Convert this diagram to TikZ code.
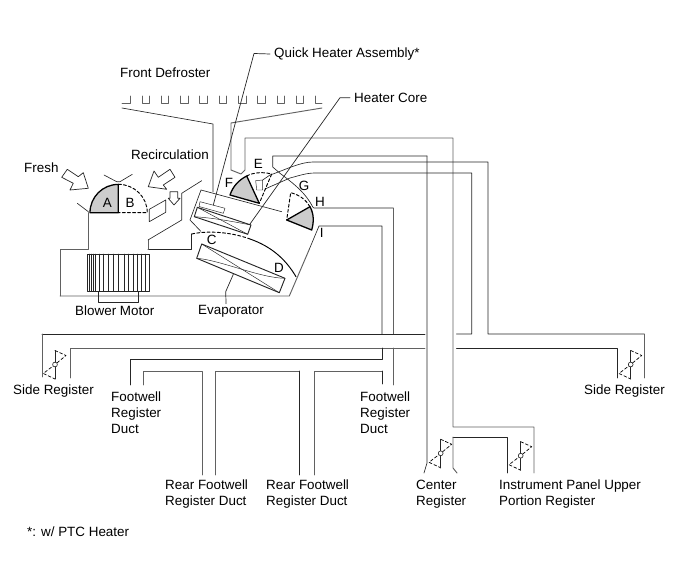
\documentclass[tikz,border=0pt]{standalone}
\usepackage{fontspec}
\setmainfont{Liberation Sans}
\usepackage{tikz}
\usetikzlibrary{calc}
\definecolor{qqqqqq}{rgb}{0.15,0.15,0.15}
\definecolor{ggduct}{rgb}{0.38,0.38,0.38}
\definecolor{ccgray}{rgb}{0.8,0.8,0.8}
\tikzstyle{every node}=[font=\fontsize{11.45}{13.66}\selectfont,inner sep=0pt,anchor=west,align=left,text=black]
\tikzset{
  duct/.style={line width=0.55pt,color=qqqqqq},
  ductpale/.style={line width=0.8pt,color=ggduct},
  thinline/.style={line width=0.4pt,color=qqqqqq},
  flap/.style={line width=1.1pt,color=black},
  flapopen/.style={line width=0.8pt,color=black,dash pattern=on 2.6pt off 1.8pt},
  airarrow/.style={line width=0.6pt,color=qqqqqq,fill=white}
}
% one register: spindle, pivot and the dashed swing
\newcommand{\register}[1]{
  \draw [flapopen,line width=0.6pt] ($#1+(0,-14)$) -- ($#1+(11,-9)$) -- #1 -- ($#1+(-11.7,9)$) -- ($#1+(0,14.5)$);
  \draw [duct,line width=0.8pt] ($#1+(0,-14)$) -- ($#1+(0,14.5)$);
  \draw [duct,fill=white] #1 circle (2.4);
}
\begin{document}
\begin{tikzpicture}[line cap=round,line join=round,x=0.03cm,y=-0.03cm]
\useasboundingbox (0,0) rectangle (691,564);
% defroster outlets
\draw [ductpale] (122,103) -- (130,103) -- (130,96);
\foreach \x in {142,161.3,180.6,199.9,219.2,238.5,257.8,277.1,296.4}
  \draw [ductpale] (\x,96) -- (\x,103) -- ({\x+7.5},103) -- ({\x+7.5},96);
\draw [ductpale] (315,96) -- (315,103) -- (322,103);
% housing and main ducts
\draw [duct] (122,108) -- (213,124) -- (213,192);
\draw [ductpale] (322,108) -- (231,123) -- (231,170) -- (241,174) -- (245,170) -- (245,138) -- (453,138) -- (453,427) -- (534,427) -- (534,473);
\draw [duct] (427,156) -- (272.7,156) -- (272.7,167) -- (280,173.3) .. controls (297,186) and (306,194) .. (313,207.3) -- (314,208) -- (393,208);
\draw [ductpale] (393,208) -- (393,334);
\draw [duct] (427,156) -- (427,463) -- (424,473);
\draw [ductpale] (393,348) -- (393,385);
\draw [duct] (262.7,180) -- (270,175) .. controls (285,170) and (300,162) .. (313,162) -- (488,162) -- (488,334) -- (644,334);
\draw [ductpale] (644,334) -- (644,378);
\draw [duct] (265,189) -- (290,178) .. controls (298,176) and (306,173) .. (315,173) -- (471.7,173) -- (471.7,334) -- (456.5,334);
\draw [duct] (456.5,348) -- (617,348) -- (617,378);
\draw [ductpale] (70,378) -- (70,348) -- (425,348);
\draw [duct] (42,334) -- (425,334);
\draw [ductpale] (42,377) -- (42,334);
\draw [duct] (309,250) -- (319,226) -- (382,226) -- (382,334);
\draw [duct] (382,348) -- (382,359) -- (130,359) -- (130,385);
\draw [ductpale] (143.3,385) -- (143.3,371) -- (202,371) -- (202,475);
\draw [ductpale] (215,475) -- (215,371) -- (299.5,371);
\draw [duct] (299.5,371) -- (299.5,475);
\draw [ductpale] (314,475) -- (314,371) -- (382,371);
\draw [duct] (382,371) -- (382,384);
\draw [duct] (453,437) -- (507,437) -- (507,473);
\draw [ductpale] (453,437) -- (453,468) -- (457,473);
\draw [ductpale] (60,296) -- (60,249.3) -- (88.3,249.3) -- (88.3,212.7);
\draw [ductpale] (60,296) -- (289.3,296) -- (309,250);
\draw [duct] (77.3,203.3) -- (88.3,211.7);
\draw [duct] (148,249.3) -- (191.7,249.3) -- (191.7,234);
\draw [ductpale] (148,249.3) -- (148,240);
\draw [duct] (148,240) -- (181.7,220) -- (181.7,193.3) -- (201.7,180.7);
\draw [duct] (281.7,211.7) -- (201,190) -- (190,220) -- (201,231.5);
% air inlets
\draw [airarrow] (67.3,169.3) -- (78.3,176.7) -- (83.3,172.7) -- (88.3,188.3) -- (70,190) -- (73.3,183.3) -- (61.7,177.3) -- cycle;
\draw [airarrow] (148.3,186.7) -- (154,171) -- (158.3,177.3) -- (170,169.3) -- (175,177.3) -- (163.3,185) -- (166.7,189.3) -- cycle;
\draw [airarrow] (170,191.7) -- (177.7,191.7) -- (177.7,198.3) -- (180,198.3) -- (174,205) -- (168.3,198.3) -- (170,198.3) -- cycle;
\draw [duct] (149.3,209.3) -- (165.7,200) -- (165.7,212.3) -- (149.3,221.7) -- cycle;
% dampers A and B
\draw [duct] (104,175) -- (116.7,181.7) -- (120,181.7) -- (132.3,174.3);
\draw [flapopen] (118.3,184.3) arc (270:360:29 and 28.4) -- (118.3,212.7);
\fill [ccgray] (118.3,212.7) -- (90,212.7) arc (180:270:28.3) -- cycle;
\draw [flap] (118.3,184.3) -- (118.3,212.7) -- (90,212.7) arc (180:270:28.3);
% dampers E, F
\draw [flapopen] (246.7,176) .. controls (254,172) and (264,172) .. (271.7,174) -- (259.3,203.3);
\fill [ccgray] (230,195) .. controls (233,186) and (239,180) .. (246.7,176) -- (259.3,203.3) -- cycle;
\draw [flap] (230,195) .. controls (233,186) and (239,180) .. (246.7,176) -- (259.3,203.3) -- cycle;
\draw [thinline,fill=white] (255.7,180.7) -- (262.7,180) -- (262.7,190) -- (256.7,190) -- cycle;
% dampers G, H
\draw [flapopen] (310,206.7) .. controls (306,200) and (300,195) .. (290.7,192.7) -- (286.7,220);
\fill [ccgray] (286.7,220) -- (310,206.7) .. controls (314,214) and (314,222) .. (311.7,230) -- cycle;
\draw [flap] (286.7,220) -- (310,206.7) .. controls (314,214) and (314,222) .. (311.7,230) -- cycle;
% damper C and D sweep
\draw [flapopen] (191.7,234) .. controls (205,231) and (228,231) .. (250,239);
\draw [flap,line width=0.8pt] (250,239) .. controls (270,246) and (285,258) .. (296,276.7);
% evaporator
\draw [duct,line width=0.8pt] (201.7,244) -- (285,278.3) -- (279.3,292.7) -- (196.7,258.3) -- cycle;
\draw [thinline] (201.7,244) -- (279.3,292.7);
\draw [thinline] (196.7,258.3) .. controls (220,260) and (260,278) .. (285,278.3);
% heater core and quick heater
\draw [duct,line width=0.8pt] (197.3,207.3) -- (251,225) -- (247.7,234.3) -- (194.3,216.7) -- cycle;
\draw [thinline] (197.3,207.3) -- (247.7,234.3);
\draw [thinline] (194.3,216.7) .. controls (215,218) and (235,222) .. (251,225);
\draw [thinline] (200,201.7) -- (225,208.3) -- (223.3,213.3) -- (199,206.5) -- cycle;
% blower
\draw [duct] (87.3,254) rectangle (149,291.7);
\foreach \x in {89.5,91.5,93.5,95,99.3,103.3,108.3,113.3,118.3,124,128.3,133.3,137.3,141.7,145}
  \draw [thinline] (\x,254) -- (\x,291.7);
\draw [duct] (98.3,291.7) -- (98.3,302.3) -- (138.3,302.3) -- (138.3,291.7);
% registers
\register{(55,364.5)}
\register{(630.7,364.5)}
\register{(440.7,453.3)}
\register{(520.7,455.7)}
% labels
\node (frontdefroster) at (120,73) {Front Defroster};
\node (quickheater) at (274,54) {Quick Heater Assembly*};
\node (heatercore) at (354,97.7) {Heater Core};
\node (fresh) at (24,168) {Fresh};
\node (recirculation) at (131,155) {Recirculation};
\node (blowermotor) at (75,311) {Blower Motor};
\node (evaporator) at (198,311) {Evaporator};
\node (sideleft) at (13,391) {Side Register};
\node (sideright) at (584,391) {Side Register};
\node (footwellleft) at (111,413) {Footwell\\Register\\Duct};
\node (footwellright) at (360,413) {Footwell\\Register\\Duct};
\node (rearleft) at (165,494) {Rear Footwell\\Register Duct};
\node (rearright) at (266,494) {Rear Footwell\\Register Duct};
\node (centerreg) at (416,494) {Center\\Register};
\node (panelreg) at (499,494) {Instrument Panel Upper\\Portion Register};
\node (ptcnote) at (27,532) {*: w/ PTC Heater};
\node at (107.3,203.3) [anchor=center] (damperA) {A};
\node at (130,203.3) [anchor=center] (damperB) {B};
\node at (211.7,240) [anchor=center] (damperC) {C};
\node at (279,268.3) [anchor=center] (damperD) {D};
\node at (258.3,164.3) [anchor=center] (damperE) {E};
\node at (229,183.3) [anchor=center] (damperF) {F};
\node at (304,185.7) [anchor=center] (damperG) {G};
\node at (320,201.7) [anchor=center] (damperH) {H};
\node at (321.7,233) [anchor=center] (damperI) {I};
% leaders
\coordinate (quickend) at (213.3,205);
\coordinate (coreend) at (250,224);
\coordinate (evapend) at (233.3,274.3);
\draw [thinline,line width=0.6pt] (quickheater.west) ++(-4,0) -- (254,53.5) -- (quickend);
\draw [thinline,line width=0.6pt] (heatercore.west) ++(-4,0) -- (340,97.7) -- (coreend);
\draw [thinline,line width=0.6pt] (evaporator.north) ++(-5,-1) -- (225.7,291.7) -- (evapend);
\end{tikzpicture}
\end{document}
